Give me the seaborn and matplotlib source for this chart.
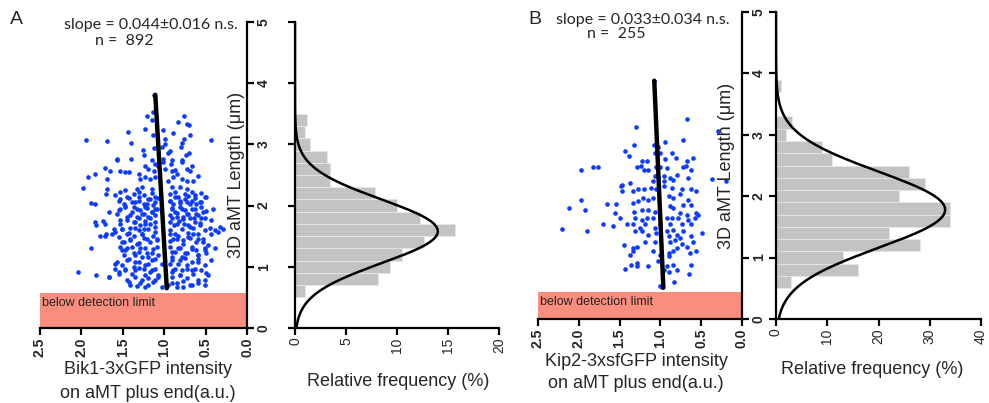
import numpy as np
import pandas as pd
import matplotlib
matplotlib.use("Agg")
import matplotlib.pyplot as plt
import seaborn as sns

sns.set_theme(style="white")
plt.rcParams['font.family'] = ['Liberation Sans', 'DejaVu Sans']

# ---------------- data ----------------
# Panel A scatter: Bik1-3xGFP intensity (x) vs 3D aMT length (y)
a_x = [1.12, 1.21, 1.13, 1.15, 0.76, 0.83, 0.72, 0.70, 1.94, 1.69, 1.44, 1.23, 1.14, 1.01, 0.89, 0.69,
       0.99, 0.76, 0.78, 1.40, 0.43, 1.12, 0.99, 1.03, 0.80, 1.26, 1.25, 0.96, 0.93, 0.70, 0.74, 1.57,
       1.57, 1.40, 1.15, 1.11, 1.02, 1.01, 0.90, 0.92, 0.78, 0.79, 1.72, 1.84, 1.92, 1.65, 1.53, 1.47,
       1.43, 1.31, 1.23, 1.20, 1.12, 1.07, 0.99, 0.91, 0.87, 0.85, 0.73, 0.67, 0.69, 0.89, 0.79, 0.59,
       0.73, 0.65, 1.69, 1.29, 1.23, 1.17, 1.11, 0.95, 1.98, 1.69, 1.47, 1.33, 1.27, 1.15, 0.91, 0.81,
       0.73,
       1.70, 1.59, 1.53, 1.45, 1.37, 1.31, 1.25, 1.15, 1.11, 0.93, 0.87, 0.83, 0.75, 0.71, 0.67, 0.63,
       0.55, 0.49, 1.88, 1.83, 1.55, 1.49, 1.39, 1.31, 1.21, 1.17, 1.11, 0.93, 0.89, 0.81, 0.73, 0.67,
       0.61, 0.57, 1.53, 1.47, 1.37, 1.29, 1.23, 1.15, 1.11, 0.91, 0.87, 0.81, 0.75, 0.71, 0.63, 0.53,
       1.67, 1.57, 1.41, 1.33, 1.25, 1.19, 1.11, 0.93, 0.85, 0.77, 0.69, 0.59, 0.55, 1.84, 1.74, 1.72,
       1.82, 1.53, 1.45, 1.35, 1.29, 1.23, 1.17, 1.11, 0.93, 0.88, 0.82, 0.76, 0.69, 0.63, 0.57, 0.45,
       0.39, 0.35, 1.61, 1.51, 1.41, 1.31, 1.25, 1.78, 1.70, 1.59, 1.55, 1.45, 1.37, 1.27, 1.21, 1.13,
       1.09, 0.93, 0.89, 0.83, 0.77, 0.71, 0.65, 0.59, 0.53, 1.51, 1.41, 1.31, 1.88, 1.53, 1.47, 1.39,
       1.31, 1.23, 1.15, 1.09, 0.93, 0.87, 0.81, 0.73, 0.67, 0.61, 0.51, 0.49, 1.49, 1.35, 1.19, 0.91,
       0.79, 0.59, 1.57, 1.51, 1.45, 1.37, 1.31, 1.23, 1.15, 1.11, 0.93, 0.87, 0.81, 0.73, 0.67, 0.59,
       1.59, 1.47, 1.35, 1.25, 1.17, 0.91, 0.79, 0.63, 2.04, 1.82, 1.67, 1.55, 1.45, 1.35, 1.29, 1.23,
       1.13, 1.07, 0.91, 0.85, 0.77, 0.73, 0.67, 0.59, 0.51, 0.49, 1.41, 1.19, 0.95, 0.81]
a_y = [3.81, 3.47, 3.53, 3.40, 3.46, 3.36, 3.34, 3.31, 3.08, 3.06, 3.21, 3.25, 3.15, 3.24, 3.18, 3.15,
       3.09, 3.09, 3.03, 3.02, 3.07, 2.94, 3.01, 2.95, 2.96, 2.91, 2.82, 2.86, 2.89, 2.86, 2.82, 2.76,
       2.74, 2.76, 2.74, 2.68, 2.76, 2.72, 2.74, 2.68, 2.75, 2.71, 2.62, 2.52, 2.46, 2.56, 2.57, 2.55,
       2.55, 2.52, 2.65, 2.60, 2.57, 2.64, 2.60, 2.57, 2.58, 2.52, 2.60, 2.64, 2.56, 2.46, 2.44, 2.49,
       2.41, 2.41, 2.44, 2.44, 2.46, 2.44, 2.46, 2.41, 2.29, 2.27, 2.26, 2.27, 2.31, 2.27, 2.30, 2.30,
       2.27,
       2.19, 2.17, 2.22, 2.14, 2.19, 2.22, 2.17, 2.20, 2.14, 2.19, 2.22, 2.14, 2.19, 2.15, 2.22, 2.17,
       2.20, 2.14, 2.04, 2.02, 2.08, 2.03, 2.06, 2.08, 2.03, 2.11, 2.06, 2.08, 2.03, 2.08, 2.06, 2.08,
       2.03, 2.06, 1.95, 1.99, 1.98, 1.92, 1.97, 1.89, 1.95, 1.95, 1.89, 1.98, 1.92, 1.87, 1.95, 1.89,
       1.89, 1.87, 1.84, 1.82, 1.86, 1.81, 1.84, 1.84, 1.81, 1.82, 1.80, 1.84, 1.79, 1.73, 1.75, 1.70,
       1.68, 1.70, 1.76, 1.73, 1.68, 1.75, 1.70, 1.65, 1.73, 1.68, 1.75, 1.70, 1.65, 1.73, 1.68, 1.64,
       1.60, 1.57, 1.62, 1.62, 1.64, 1.60, 1.62, 1.51, 1.54, 1.57, 1.49, 1.54, 1.50, 1.54, 1.46, 1.51,
       1.43, 1.54, 1.46, 1.51, 1.43, 1.49, 1.54, 1.46, 1.41, 1.41, 1.43, 1.39, 1.31, 1.32, 1.27, 1.32,
       1.24, 1.30, 1.22, 1.32, 1.32, 1.24, 1.30, 1.22, 1.32, 1.27, 1.30, 1.22, 1.19, 1.19, 1.16, 1.16,
       1.16, 1.19, 1.08, 1.03, 1.11, 1.00, 1.08, 1.03, 1.11, 0.97, 1.05, 0.97, 1.11, 1.03, 0.94, 1.08,
       0.97, 0.94, 0.94, 0.96, 0.92, 0.92, 0.94, 0.97, 0.92, 0.86, 0.83, 0.89, 0.78, 0.84, 0.73, 0.67,
       0.75, 0.84, 0.84, 0.73, 0.67, 0.81, 0.70, 0.78, 0.78, 0.90, 0.70, 0.81, 0.70, 0.86]

# Panel A dense core (read from a close-up of the crowded region)
a_x_core = [1.53, 1.43, 1.35, 1.31, 1.25, 1.19, 1.13, 1.07, 0.93, 0.87, 0.81, 0.75, 0.69, 0.63, 0.55, 0.51,
            1.55, 1.47, 1.39, 1.33, 1.27, 1.21, 1.15, 1.09, 0.91, 0.85, 0.79, 0.73, 0.67, 0.61, 0.55, 0.49,
            0.41, 1.53, 1.45, 1.37, 1.31, 1.23, 1.17, 1.11, 0.91, 0.85, 0.77, 0.71, 0.64, 0.57, 0.51, 0.43,
            0.33, 0.29, 1.72, 1.63, 1.51, 1.43, 1.35, 1.27, 1.19, 1.11, 0.93, 0.87, 0.79, 0.71, 0.65, 0.59,
            0.51, 0.43, 1.49, 1.41, 1.33, 1.25, 1.17, 1.09, 0.93, 0.85, 0.77, 0.69, 0.61, 0.53, 0.47, 1.51,
            1.45, 1.37, 1.29, 1.21, 1.13, 1.07, 0.91, 0.83, 0.75, 0.67, 0.59, 0.51, 0.39, 1.59, 1.43, 1.35,
            1.27, 1.19, 1.11, 1.03, 0.91, 0.83, 0.75, 0.67, 0.59, 0.51, 0.43, 1.67, 1.55, 1.47, 1.39, 1.31,
            1.23, 1.15, 1.07, 0.89, 0.81, 0.73, 0.65, 0.55, 0.47, 1.43, 1.33, 1.27, 1.19, 1.11, 1.03, 0.91,
            0.85, 0.77, 0.69, 0.59, 0.51]
a_y_core = [2.11, 2.12, 2.06, 2.14, 2.03, 2.10, 2.01, 2.12, 2.08, 2.14, 2.05, 2.11, 2.03, 2.12, 2.06, 2.14,
            1.92, 1.98, 1.89, 1.95, 1.87, 1.96, 1.89, 1.94, 1.96, 1.88, 1.95, 1.87, 1.94, 1.87, 1.98, 1.91,
            1.95, 1.76, 1.81, 1.73, 1.79, 1.70, 1.80, 1.73, 1.79, 1.70, 1.78, 1.69, 1.79, 1.72, 1.80, 1.76,
            1.65, 1.62, 1.51, 1.53, 1.62, 1.56, 1.63, 1.54, 1.61, 1.57, 1.60, 1.53, 1.62, 1.56, 1.63, 1.53,
            1.60, 1.54, 1.41, 1.46, 1.38, 1.47, 1.41, 1.45, 1.42, 1.46, 1.38, 1.47, 1.41, 1.46, 1.36, 1.27,
            1.31, 1.23, 1.30, 1.22, 1.29, 1.20, 1.24, 1.30, 1.22, 1.29, 1.20, 1.27, 1.30, 1.05, 1.13, 1.08,
            1.16, 1.05, 1.12, 1.04, 1.11, 1.05, 1.15, 1.08, 1.12, 1.03, 1.11, 0.84, 0.92, 0.96, 0.89, 0.98,
            0.86, 0.94, 0.87, 0.94, 0.86, 0.97, 0.89, 0.94, 0.86, 0.75, 0.69, 0.78, 0.71, 0.78, 0.67, 0.74,
            0.67, 0.77, 0.70, 0.74, 0.70]

# Panel B scatter: Kip2-3xsfGFP intensity (x) vs 3D aMT length (y)
b_x = [1.08, 0.67, 1.30, 0.30, 0.94, 0.72, 1.32, 1.08, 1.03, 1.43, 1.38, 1.07, 1.00, 0.86, 0.94, 0.81,
       0.60, 0.67, 1.22, 1.16, 1.97, 1.82, 1.76, 1.29, 1.24, 1.20, 1.15, 1.06, 1.00, 0.92, 0.72, 0.69,
       0.62, 1.07, 1.03, 0.96, 0.88, 0.80, 0.84, 0.66, 0.37, 0.19, 1.37, 1.47, 1.09, 0.95,
       1.48, 1.47, 1.34, 1.27, 1.20, 1.11, 1.05, 0.95, 0.86, 0.74, 0.62, 0.56, 1.97, 2.12, 1.92, 1.66,
       1.54, 1.33, 1.27, 1.21, 1.15, 1.09, 0.90, 0.84, 0.76, 0.66, 0.72, 0.62, 1.32, 1.23, 1.15, 1.07,
       0.88, 0.84, 0.76, 0.68, 0.56, 1.56, 1.50, 1.31, 1.23, 1.17, 1.09, 0.92, 0.86, 0.78, 0.66, 0.58,
       0.54, 1.70, 1.58, 1.41, 1.34, 1.25, 1.19, 1.07, 1.00, 0.88, 0.74, 0.62, 2.21, 1.90, 1.31, 1.23,
       1.15, 1.05, 0.92, 0.84, 0.80, 0.72, 0.62, 0.49, 1.19, 1.07, 0.90, 0.88, 0.82, 0.76, 0.74, 0.68,
       0.60, 1.44, 1.34, 1.29, 1.33, 1.37, 1.09, 1.00, 0.90, 0.84, 0.80, 0.64, 0.56, 0.89, 1.29, 1.29,
       1.36, 1.43, 1.15, 1.03, 0.92, 0.84, 0.80, 0.95, 0.89, 0.63, 0.65, 0.83, 1.00, 0.98]
b_y = [3.88, 3.26, 3.12, 3.06, 2.89, 2.92, 2.84, 2.83, 2.80, 2.73, 2.66, 2.70, 2.70, 2.71, 2.60, 2.62,
       2.63, 2.58, 2.57, 2.58, 2.42, 2.47, 2.47, 2.47, 2.49, 2.43, 2.43, 2.48, 2.48, 2.46, 2.47, 2.49,
       2.42, 2.33, 2.32, 2.33, 2.30, 2.35, 2.27, 2.29, 2.28, 2.24, 2.22, 2.19, 2.24, 2.24,
       2.16, 2.09, 2.09, 2.11, 2.11, 2.13, 2.11, 2.16, 2.14, 2.11, 2.12, 2.09, 1.93, 1.80, 1.78, 1.88,
       1.87, 1.89, 1.92, 1.97, 1.93, 1.97, 2.00, 1.97, 2.03, 1.94, 1.85, 1.85, 1.75, 1.78, 1.78, 1.75,
       1.84, 1.80, 1.73, 1.70, 1.73, 1.73, 1.64, 1.64, 1.62, 1.64, 1.64, 1.64, 1.64, 1.64, 1.62, 1.64,
       1.69, 1.54, 1.51, 1.54, 1.54, 1.49, 1.54, 1.49, 1.54, 1.54, 1.55, 1.54, 1.47, 1.43, 1.43, 1.44,
       1.37, 1.40, 1.43, 1.45, 1.37, 1.43, 1.35, 1.40, 1.26, 1.25, 1.35, 1.26, 1.29, 1.32, 1.22, 1.18,
       1.26, 1.21, 1.16, 1.17, 1.10, 1.05, 1.11, 1.05, 1.07, 1.11, 1.16, 1.07, 1.11, 1.02, 0.91, 0.87,
       0.88, 0.82, 0.86, 0.94, 0.86, 0.88, 0.80, 0.79, 0.77, 0.88, 0.73, 0.60, 0.53, 0.52]

# Linear fits (intensity = intercept + slope * length) and their length span
a_fit_intercept, a_fit_slope, a_fit_range = 0.94, 0.044, (0.65, 3.81)
b_fit_intercept, b_fit_slope, b_fit_range = 0.947, 0.033, (0.51, 3.88)

# Histograms of length (relative frequency, %), bins of 0.2 um
a_bin_edges = [0.5, 0.7, 0.9, 1.1, 1.3, 1.5, 1.7, 1.9, 2.1, 2.3, 2.5, 2.7, 2.9, 3.1, 3.3, 3.5]
a_freq = [1.0, 8.1, 9.3, 10.5, 12.6, 15.7, 12.3, 10.0, 7.8, 3.4, 3.4, 3.1, 1.5, 1.0, 1.2]
b_bin_edges = [0.5, 0.7, 0.9, 1.1, 1.3, 1.5, 1.7, 1.9, 2.1, 2.3, 2.5, 2.7, 2.9, 3.1, 3.3, 3.5, 3.7, 3.9]
b_freq = [2.9, 16.0, 13.0, 28.0, 22.0, 34.0, 34.0, 24.0, 29.0, 26.0, 11.0, 9.0, 1.9, 3.05, 0.0, 0.0, 0.9]

# Gaussian fits of the histograms: (mean, sd, amplitude)
a_gauss = (1.58, 0.52, 14.0)
b_gauss = (1.78, 0.62, 33.0)

detect_limit_a = 0.57
detect_limit_b = 0.44

scatter_xticks = [2.5, 2.0, 1.5, 1.0, 0.5, 0.0]
length_ticks = [0, 1, 2, 3, 4, 5]
a_hist_xticks = [0, 5, 10, 15, 20]
b_hist_xticks = [0, 10, 20, 30, 40]

ylabel = "3D aMT Length (\u03bcm)"
hist_xlabel = "Relative frequency (%)"

# ---------------- figure ----------------
W, H = 989, 403
fig = plt.figure(figsize=(W / 100, H / 100), dpi=100)
fig.patch.set_facecolor("white")

def fr(x0, y_top, x1, y_bot):
    return [x0 / W, 1 - y_bot / H, (x1 - x0) / W, (y_bot - y_top) / H]

BLUE = "#0D3BFF"
RED = "#F98E7E"
GRAY = "#C3C3C3"
LW = 1.6
tickfont = dict(family="Liberation Sans", weight="bold", size=10)


def style_scatter(ax, limit, lab_xfrac):
    ax.set_xlim(2.5, 0.0)
    ax.set_ylim(0, 5)
    ax.axhspan(0, limit, color=RED, lw=0, zorder=0)
    ax.text(2.47, limit - 0.06, "below detection limit", ha="left", va="top",
            fontsize=9, color="#222222", zorder=3)
    for s in ["left", "top"]:
        ax.spines[s].set_visible(False)
    for s in ["right", "bottom"]:
        ax.spines[s].set_visible(True)
        ax.spines[s].set_linewidth(LW)
        ax.spines[s].set_color("black")
    ax.yaxis.tick_right()
    ax.set_xticks(scatter_xticks)
    ax.set_xticklabels([f"{v:.1f}" for v in scatter_xticks], rotation=90, fontdict=tickfont)
    ax.set_yticks(length_ticks)
    ax.set_yticklabels([str(v) for v in length_ticks], rotation=90, va="center", fontdict=tickfont)
    ax.tick_params(axis="both", direction="out", length=5, width=LW, color="black", pad=2)
    ax.tick_params(axis="y", right=True, left=False)
    ax.tick_params(axis="x", bottom=True)
    ax.set_xlabel("")
    ax.set_ylabel("")
    ax.text(lab_xfrac, 0.5, ylabel, transform=ax.transAxes, rotation=90,
            ha="center", va="center", fontsize=13)
    ax.patch.set_alpha(0)


def style_hist(ax, xmax, xticks):
    ax.set_xlim(0, xmax)
    ax.set_ylim(0, 5)
    for s in ["right", "top"]:
        ax.spines[s].set_visible(False)
    for s in ["left", "bottom"]:
        ax.spines[s].set_visible(True)
        ax.spines[s].set_linewidth(LW)
        ax.spines[s].set_color("black")
    ax.set_xticks(xticks)
    ax.set_xticklabels([str(v) for v in xticks], rotation=90, fontsize=10)
    ax.set_yticks(length_ticks)
    ax.set_yticklabels([])
    ax.tick_params(axis="both", direction="out", length=5, width=LW, color="black", pad=2)
    ax.tick_params(axis="y", left=True)
    ax.tick_params(axis="x", bottom=True)
    ax.set_xlabel("")
    ax.set_ylabel("")
    ax.patch.set_alpha(0)


def draw_panel(sc_box, hi_box, xs, ys, fit, limit, lab_xfrac,
               edges, freq, gauss, xmax, hticks):
    ax = fig.add_axes(fr(*sc_box))
    sns.scatterplot(x=xs, y=ys, ax=ax, s=11, color=BLUE, linewidth=0, zorder=2)
    intercept, slope, (y0, y1) = fit
    ly = np.array([y0, y1])
    sns.lineplot(x=intercept + slope * ly, y=ly, ax=ax, sort=False, color="black",
                 lw=3.2, zorder=4)
    style_scatter(ax, limit, lab_xfrac)

    hx = fig.add_axes(fr(*hi_box))
    e = np.asarray(edges, dtype=float)
    hdf = pd.DataFrame({"length": (e[:-1] + e[1:]) / 2, "freq": list(freq)})
    sns.histplot(data=hdf, y="length", weights="freq", bins=list(edges), ax=hx,
                 color=GRAY, alpha=1, edgecolor="#E6E6E6", linewidth=0.6, zorder=1)
    mu, sd, amp = gauss
    gy = np.linspace(0, 5, 400)
    gx = amp * np.exp(-0.5 * ((gy - mu) / sd) ** 2)
    sns.lineplot(x=gx, y=gy, ax=hx, sort=False, color="black", lw=1.8, zorder=3)
    style_hist(hx, xmax, hticks)
    return ax, hx


axA, hA = draw_panel((40, 22, 247, 328), (295, 22, 499, 328), a_x + a_x_core, a_y + a_y_core,
                     (a_fit_intercept, a_fit_slope, a_fit_range), detect_limit_a, 0.947,
                     a_bin_edges, a_freq, a_gauss, 20, a_hist_xticks)
axB, hB = draw_panel((538, 12, 742, 319), (776, 12, 981, 319), b_x, b_y,
                     (b_fit_intercept, b_fit_slope, b_fit_range), detect_limit_b, 0.926,
                     b_bin_edges, b_freq, b_gauss, 40, b_hist_xticks)


def ftext(px, py, s, **kw):
    fig.text(px / W, 1 - py / H, s, **kw)


ftext(148, 369, "Bik1-3xGFP intensity", ha="center", va="center", fontsize=13)
ftext(148, 393, "on aMT plus end(a.u.)", ha="center", va="center", fontsize=13)
ftext(636, 361, "Kip2-3xsfGFP intensity", ha="center", va="center", fontsize=13)
ftext(636, 384, "on aMT plus end(a.u.)", ha="center", va="center", fontsize=13)
ftext(398, 381, hist_xlabel, ha="center", va="center", fontsize=13)
ftext(872, 370, hist_xlabel, ha="center", va="center", fontsize=13)

ftext(10, 19, "A", ha="left", va="center", fontsize=14)
ftext(528, 19, "B", ha="left", va="center", fontsize=14)
ftext(151, 25, "slope = 0.044\u00b10.016 n.s.", ha="center", va="center", fontsize=11.5,
      family=["Lato", "DejaVu Sans"])
ftext(95, 41, "n =  892", ha="left", va="center", fontsize=11.5, family=["Lato", "DejaVu Sans"])
ftext(643, 20, "slope = 0.033\u00b10.034 n.s.", ha="center", va="center", fontsize=11.5,
      family=["Lato", "DejaVu Sans"])
ftext(587, 34, "n =  255", ha="left", va="center", fontsize=11.5, family=["Lato", "DejaVu Sans"])

fig.savefig("out.png", dpi=100, facecolor="white")
